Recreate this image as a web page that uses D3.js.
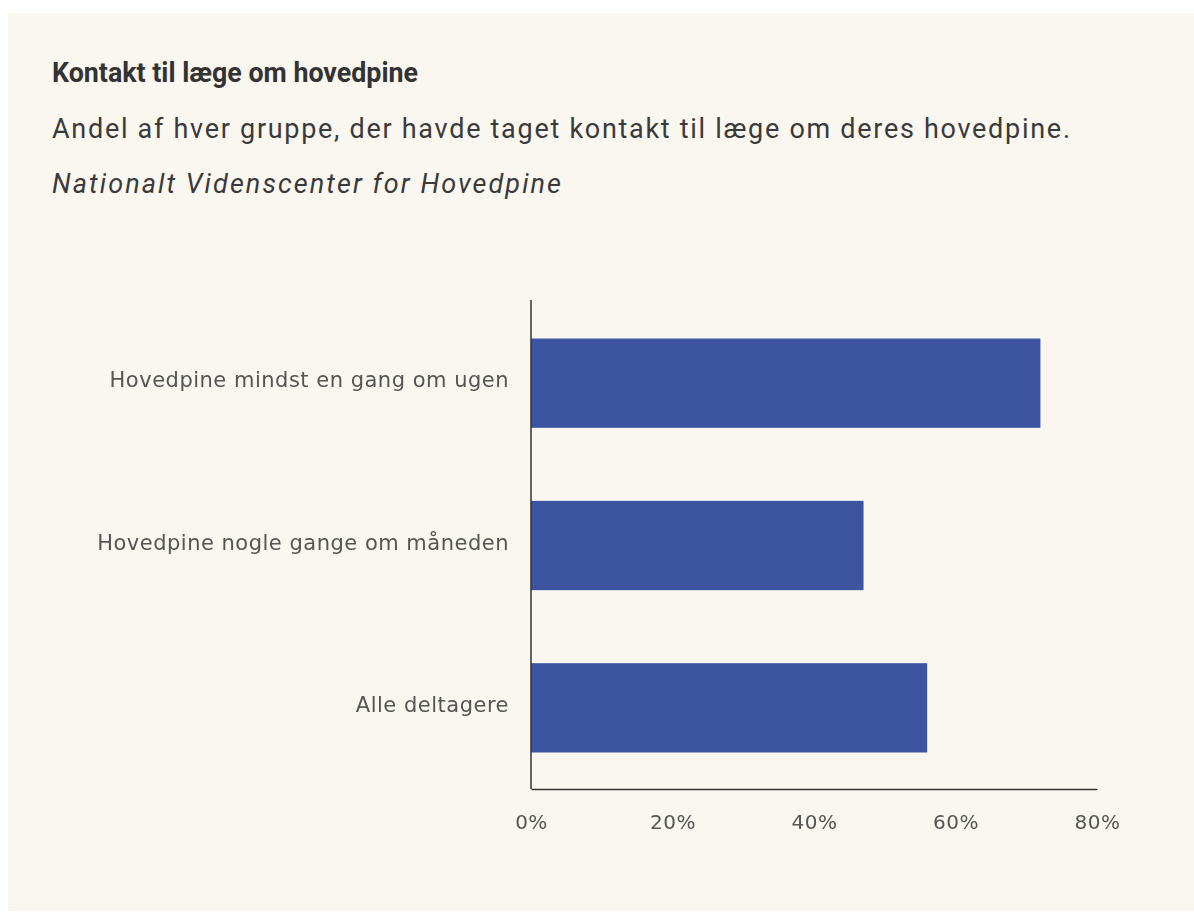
<!DOCTYPE html>
<html>
<head>
<meta charset="utf-8">
<script src="https://cdn.jsdelivr.net/npm/d3@7"></script>
<style>
  html, body { margin: 0; padding: 0; background: #ffffff; }
  svg { display: block; }
  .title { font-family: "Roboto", sans-serif; font-weight: bold; font-size: 28px; fill: #333333; }
  .subtitle { font-family: "Roboto", sans-serif; font-size: 27px; fill: #3a3a3a; }
  .source { font-family: "Roboto", sans-serif; font-style: italic; font-size: 27px; fill: #3a3a3a; }
  .axis text { font-family: "DejaVu Sans", sans-serif; font-size: 21px; letter-spacing: 0.5px; fill: #555555; }
  .axis.x text { font-size: 20px; }
  .axis path { stroke: #333333; stroke-width: 1.5; }
</style>
</head>
<body>
<svg id="chart" width="1194" height="913"></svg>
<script>
// Share of each group that had contacted a doctor about their headache (%)
const categories = [
  "Hovedpine mindst en gang om ugen",
  "Hovedpine nogle gange om måneden",
  "Alle deltagere"
];
const values = [72, 47, 56];
const xTicks = [0, 20, 40, 60, 80];

const titleText = "Kontakt til læge om hovedpine";
const subtitleText = "Andel af hver gruppe, der havde taget kontakt til læge om deres hovedpine.";
const sourceText = "Nationalt Videnscenter for Hovedpine";

const svg = d3.select("#chart");

// Soft edge for the plotted chart
const defs = svg.append("defs");
defs.append("filter").attr("id", "soft")
  .attr("x", "-5%").attr("y", "-5%").attr("width", "110%").attr("height", "110%")
  .append("feGaussianBlur").attr("stdDeviation", 0.55);

// Panel background
svg.append("rect")
  .attr("x", 8).attr("y", 13)
  .attr("width", 1186).attr("height", 898)
  .attr("fill", "#faf6f0");

// Header texts
svg.append("text").attr("class", "title").attr("x", 52).attr("y", 82)
  .attr("textLength", 366).attr("lengthAdjust", "spacingAndGlyphs").text(titleText);
svg.append("text").attr("class", "subtitle").attr("x", 52).attr("y", 138)
  .attr("textLength", 1018).attr("lengthAdjust", "spacing").text(subtitleText);
svg.append("text").attr("class", "source").attr("x", 52).attr("y", 193)
  .attr("textLength", 509).attr("lengthAdjust", "spacing").text(sourceText);

// Plot area
const plot = { left: 531, right: 1097, top: 300, bottom: 789 };

const x = d3.scaleLinear()
  .domain([0, 80])
  .range([plot.left, plot.right]);

const y = d3.scaleBand()
  .domain(categories)
  .range([plot.top + 2, plot.bottom])
  .paddingInner(0.45)
  .paddingOuter(0.225);

const chart = svg.append("g").attr("filter", "url(#soft)");

// Bars
chart.append("g")
  .selectAll("rect")
  .data(categories.map((c, i) => ({ c, v: values[i] })))
  .join("rect")
  .attr("x", x(0))
  .attr("y", d => y(d.c))
  .attr("width", d => x(d.v) - x(0))
  .attr("height", y.bandwidth())
  .attr("fill", "#3c54a0");

// Y axis (category labels)
const yAxis = chart.append("g")
  .attr("class", "axis y")
  .attr("transform", `translate(${plot.left},0)`)
  .call(d3.axisLeft(y).tickSize(0).tickSizeOuter(0).tickPadding(22));
yAxis.select(".domain").attr("d", `M0,${plot.top}V${plot.bottom}`);
yAxis.selectAll(".tick text").attr("dy", "0.2em");

// X axis (percent)
chart.append("g")
  .attr("class", "axis x")
  .attr("transform", `translate(0,${plot.bottom})`)
  .call(d3.axisBottom(x).tickValues(xTicks).tickFormat(d => d + "%").tickSize(0).tickSizeOuter(0).tickPadding(26));
</script>
</body>
</html>
